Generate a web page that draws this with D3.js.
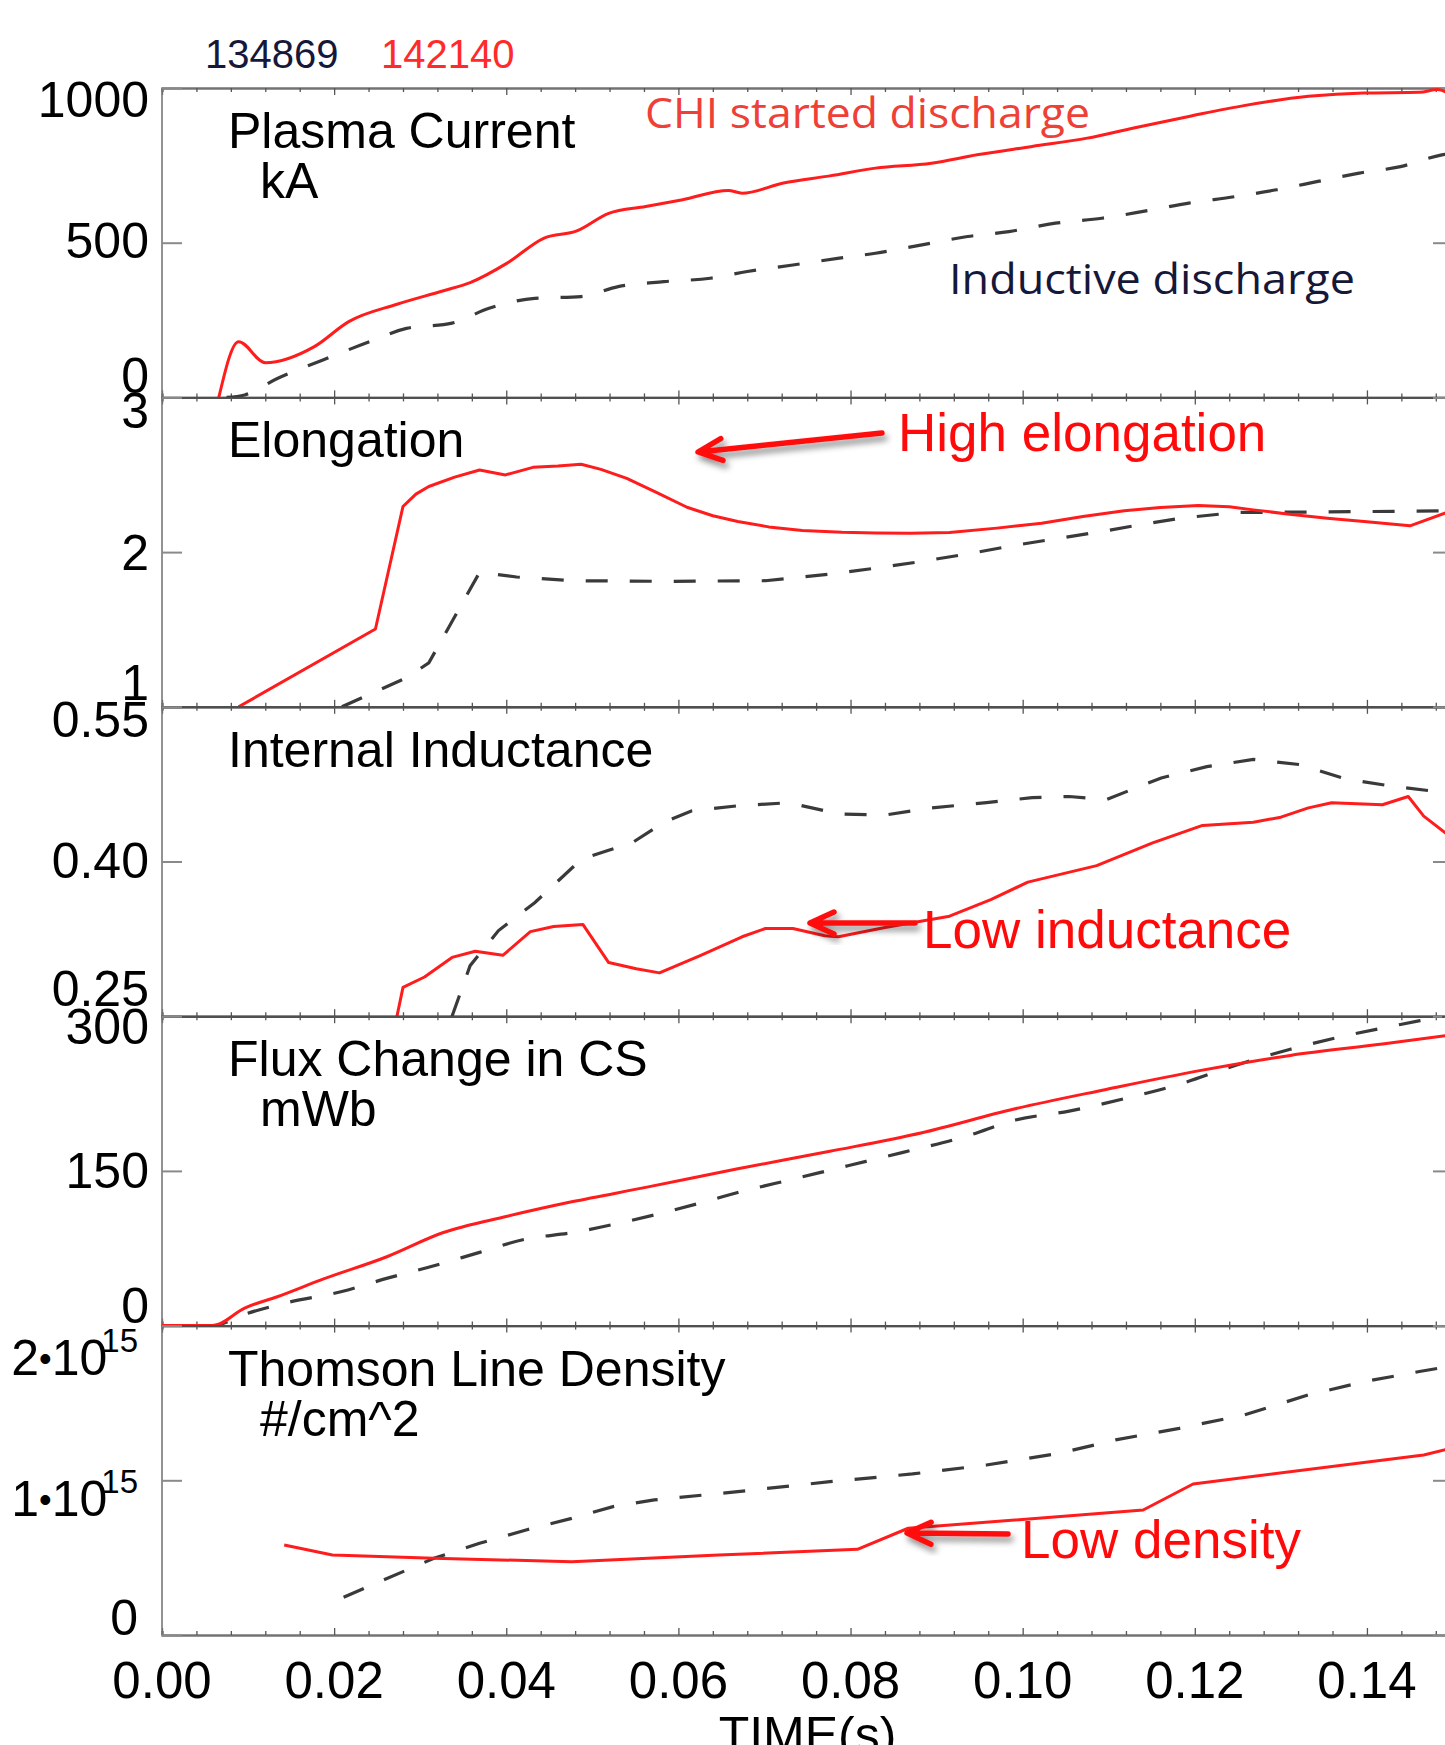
<!DOCTYPE html>
<html><head><meta charset="utf-8">
<script src="https://cdn.jsdelivr.net/npm/d3@7"></script>
<style>body{margin:0;background:#fff}svg{display:block}</style>
</head><body><svg id="c" width="1445" height="1745"></svg>
<script>
// ---------------- DATA ----------------
const shotInductive = "134869";
const shotCHI = "142140";
const xTickValues = [0, 0.02, 0.04, 0.06, 0.08, 0.10, 0.12, 0.14];
const xTickLabels = ["0.00", "0.02", "0.04", "0.06", "0.08", "0.10", "0.12", "0.14"];
const xAxisTitle = "TIME(s)";

const panelTitles = [["Plasma Current", "kA"], ["Elongation"], ["Internal Inductance"], ["Flux Change in CS", "mWb"], ["Thomson Line Density", "#/cm^2"]];
const panelDomains = [[0, 1000], [1, 3], [0.25, 0.55], [0, 300], [0, 2e15]];
const yTickValues = [[0, 500, 1000], [1, 2, 3], [0.25, 0.40, 0.55], [0, 150, 300], [0, 1e15, 2e15]];
const yTickLabels = [["0", "500", "1000"], ["1", "2", "3"], ["0.25", "0.40", "0.55"], ["0", "150", "300"], ["0", "1", "2"]];
const yTickSup = [["", "", ""], ["", "", ""], ["", "", ""], ["", "", ""], ["", "15", "15"]];

// Plasma current (kA)
const ipTimeCHI = [0.0066, 0.0089, 0.0120, 0.0177, 0.0217, 0.0273, 0.0326, 0.0358, 0.0401, 0.0444, 0.0482, 0.0519, 0.0562, 0.0605, 0.0658, 0.0674, 0.0722, 0.0776, 0.0829, 0.0894, 0.0947, 0.1011, 0.1075, 0.1129, 0.1193, 0.1257, 0.1332, 0.1396, 0.1461, 0.1482, 0.1500];
const ipCHI = [0, 180, 112, 164, 245, 301, 344, 371, 434, 515, 538, 595, 617, 639, 669, 660, 693, 716, 741, 757, 784, 811, 838, 871, 908, 943, 973, 984, 986, 995, 975];
const ipTimeInd = [0.0075, 0.0096, 0.0134, 0.0187, 0.0241, 0.0284, 0.0337, 0.0380, 0.0433, 0.0487, 0.0530, 0.0583, 0.0637, 0.0680, 0.0733, 0.0787, 0.0829, 0.0883, 0.0936, 0.0984, 0.1038, 0.1092, 0.1140, 0.1193, 0.1247, 0.1295, 0.1343, 0.1391, 0.1439, 0.1487, 0.1500];
const ipInd = [0, 8, 61, 121, 180, 223, 240, 288, 320, 326, 358, 374, 385, 407, 428, 450, 466, 493, 520, 536, 563, 579, 601, 628, 649, 671, 698, 725, 746, 784, 790];

// Elongation
const kTimeCHI = [0.0089, 0.0248, 0.0280, 0.0295, 0.0310, 0.0340, 0.0369, 0.0399, 0.0431, 0.0460, 0.0487, 0.0510, 0.0540, 0.0575, 0.0610, 0.0640, 0.0669, 0.0705, 0.0744, 0.0790, 0.0829, 0.0870, 0.0915, 0.0970, 0.1022, 0.1070, 0.1118, 0.1160, 0.1204, 0.1240, 0.1268, 0.1310, 0.1354, 0.1400, 0.1450, 0.1500];
const kCHI = [1.0, 1.503, 2.295, 2.375, 2.424, 2.485, 2.531, 2.499, 2.548, 2.556, 2.568, 2.535, 2.477, 2.385, 2.290, 2.235, 2.198, 2.163, 2.140, 2.128, 2.123, 2.122, 2.127, 2.155, 2.187, 2.230, 2.267, 2.288, 2.301, 2.293, 2.273, 2.245, 2.219, 2.196, 2.170, 2.27];
const kTimeInd = [0.0209, 0.0284, 0.0310, 0.0369, 0.0412, 0.0476, 0.0583, 0.0701, 0.0776, 0.0830, 0.0883, 0.0940, 0.0990, 0.1045, 0.1097, 0.1140, 0.1183, 0.1247, 0.1311, 0.1500];
const kInd = [1.0, 1.187, 1.284, 1.869, 1.839, 1.815, 1.811, 1.815, 1.858, 1.897, 1.940, 1.992, 2.043, 2.092, 2.138, 2.180, 2.219, 2.256, 2.258, 2.267];

// Internal inductance
const liTimeCHI = [0.0273, 0.0280, 0.0305, 0.0337, 0.0364, 0.0396, 0.0428, 0.0455, 0.0489, 0.0519, 0.0551, 0.0578, 0.0626, 0.0674, 0.0701, 0.0733, 0.0770, 0.0786, 0.0840, 0.0915, 0.0963, 0.1006, 0.1086, 0.1151, 0.1209, 0.1268, 0.1300, 0.1332, 0.1359, 0.1418, 0.1448, 0.1466, 0.1500];
const liCHI = [0.250, 0.278, 0.288, 0.307, 0.313, 0.309, 0.332, 0.337, 0.339, 0.302, 0.296, 0.292, 0.309, 0.327, 0.335, 0.335, 0.328, 0.327, 0.336, 0.347, 0.363, 0.380, 0.396, 0.418, 0.435, 0.438, 0.443, 0.452, 0.457, 0.455, 0.463, 0.444, 0.422];
const liTimeInd = [0.0337, 0.0358, 0.0391, 0.0433, 0.0487, 0.0519, 0.0546, 0.0583, 0.0615, 0.0669, 0.0728, 0.0755, 0.0787, 0.0840, 0.0894, 0.0958, 0.1011, 0.1054, 0.1097, 0.1161, 0.1214, 0.1268, 0.1322, 0.1375, 0.1429, 0.1500];
const liInd = [0.250, 0.299, 0.333, 0.360, 0.402, 0.411, 0.418, 0.438, 0.449, 0.454, 0.457, 0.452, 0.446, 0.445, 0.452, 0.457, 0.462, 0.463, 0.460, 0.481, 0.492, 0.499, 0.494, 0.480, 0.473, 0.466];

// Flux change in CS (mWb)
const fluxTimeCHI = [0, 0.0059, 0.0096, 0.0134, 0.0187, 0.0262, 0.0326, 0.0401, 0.0476, 0.0562, 0.0669, 0.0776, 0.0883, 0.0990, 0.1097, 0.1204, 0.1311, 0.1418, 0.1500];
const fluxCHI = [0, 0, 17, 28, 45, 67, 90, 106, 120, 134, 152, 169, 187, 210, 229, 247, 262, 273, 282];
const fluxTimeInd = [0, 0.0059, 0.0096, 0.0144, 0.0209, 0.0262, 0.0316, 0.0369, 0.0423, 0.0476, 0.0540, 0.0626, 0.0669, 0.0733, 0.0797, 0.0861, 0.0936, 0.0990, 0.1054, 0.1118, 0.1182, 0.1246, 0.1311, 0.1375, 0.1439, 0.1482, 0.1500];
const fluxInd = [0, 0, 11, 22, 33, 46, 58, 71, 84, 90, 101, 119, 129, 142, 155, 168, 184, 199, 208, 220, 234, 252, 268, 281, 292, 299, 302];

// Thomson line density (#/cm^2)
const neTimeCHI = [0.0142, 0.0198, 0.0316, 0.0476, 0.0647, 0.0808, 0.0867, 0.1140, 0.1198, 0.1466, 0.1500];
const neCHI = [0.582e15, 0.517e15, 0.496e15, 0.474e15, 0.517e15, 0.554e15, 0.690e15, 0.808e15, 0.976e15, 1.164e15, 1.21e15];
const neTimeInd = [0.0211, 0.0316, 0.0369, 0.0423, 0.0476, 0.0524, 0.0572, 0.0669, 0.0776, 0.0872, 0.0958, 0.1043, 0.1108, 0.1182, 0.1257, 0.1332, 0.1397, 0.1461, 0.1500];
const neInd = [0.244e15, 0.496e15, 0.593e15, 0.679e15, 0.754e15, 0.830e15, 0.873e15, 0.927e15, 0.991e15, 1.041e15, 1.099e15, 1.175e15, 1.261e15, 1.336e15, 1.422e15, 1.552e15, 1.638e15, 1.703e15, 1.74e15];

const seriesCHI = [[ipTimeCHI, ipCHI], [kTimeCHI, kCHI], [liTimeCHI, liCHI], [fluxTimeCHI, fluxCHI], [neTimeCHI, neCHI]];
const seriesInd = [[ipTimeInd, ipInd], [kTimeInd, kInd], [liTimeInd, liInd], [fluxTimeInd, fluxInd], [neTimeInd, neInd]];

// ---------------- LAYOUT ----------------
const left = 162, rightX = 1453;
const top0 = 88, panelH = 309.4, nP = 5;
const RED = "#ff1c1c", DARK = "#3a3a3a", NAVY = "#16183a";
const FONT = "'Liberation Sans', Arial, Helvetica, sans-serif";
const HFONT = "'Open Sans', 'Noto Sans', sans-serif";
const curveKinds = [d3.curveMonotoneX, d3.curveLinear, d3.curveLinear, d3.curveMonotoneX, d3.curveLinear];
const lblOff = [[-4, 15, 29], [-7, 18, 31], [-10, 16, 30], [-3, 17, 28], [0, 36, 49]];

const svg = d3.select("#c");
const defs = svg.append("defs");
const f = defs.append("filter").attr("id", "shadow").attr("x", "-20%").attr("y", "-50%").attr("width", "140%").attr("height", "200%");
f.append("feDropShadow").attr("dx", 3).attr("dy", 5).attr("stdDeviation", 3).attr("flood-color", "#000").attr("flood-opacity", 0.45);

const x = d3.scaleLinear().domain([0, 0.15]).range([left, rightX]);

for (let p = 0; p < nP; p++) {
  const pt = top0 + p * panelH, pb = pt + panelH;
  const y = d3.scaleLinear().domain(panelDomains[p]).range([pb, pt]);
  const g = svg.append("g");
  defs.append("clipPath").attr("id", "clip" + p).append("rect")
    .attr("x", left).attr("y", pt).attr("width", rightX - left).attr("height", panelH);

  // x axes (top & bottom) with inward ticks
  const minorVals = d3.range(0, 0.1501, 0.004);
  const axB = d3.axisTop(x).tickValues(minorVals).tickSizeOuter(0).tickSize(4).tickFormat("");
  const gb = g.append("g").attr("transform", `translate(0,${pb})`).call(axB);
  const axT = d3.axisBottom(x).tickValues(minorVals).tickSizeOuter(0).tickSize(4).tickFormat("");
  const gt = g.append("g").attr("transform", `translate(0,${pt})`).call(axT);
  [gb, gt].forEach(a => {
    a.select(".domain").attr("stroke", "#444").attr("stroke-width", 2.4).attr("stroke-opacity", 0.75);
    a.selectAll(".tick line").attr("stroke", "#555").attr("stroke-width", 1.3)
      .attr("y2", function(d){ const maj = Math.abs(d / 0.02 - Math.round(d / 0.02)) < 1e-6; const s = d3.select(this).attr("y2") < 0 ? -1 : 1; return s * (maj ? 7 : 4); });
  });
  // left axis line
  g.append("line").attr("x1", left).attr("x2", left).attr("y1", pt).attr("y2", pb)
    .attr("stroke", "#777").attr("stroke-width", 1.6);
  // y ticks (left and right)
  const yl = d3.axisRight(y).tickValues(yTickValues[p]).tickSize(20).tickFormat("");
  const gyl = g.append("g").attr("transform", `translate(${left},0)`).call(yl);
  gyl.select(".domain").remove();
  gyl.selectAll(".tick line").attr("stroke", "#8a8a8a").attr("stroke-width", 2);
  const yr = d3.axisLeft(y).tickValues(yTickValues[p]).tickSize(20).tickFormat("");
  const gyr = g.append("g").attr("transform", `translate(${rightX},0)`).call(yr);
  gyr.select(".domain").remove();
  gyr.selectAll(".tick line").attr("stroke", "#8a8a8a").attr("stroke-width", 2);

  // y tick labels
  yTickValues[p].forEach((v, i) => {
    const t = svg.append("text").attr("x", p === 4 ? 138 : 149).attr("y", y(v) + lblOff[p][i])
      .attr("text-anchor", "end").attr("font-family", FONT).attr("font-size", 50).attr("fill", "#000");
    if (yTickSup[p][i]) {
      t.append("tspan").text(yTickLabels[p][i]);
      t.append("tspan").attr("font-size", 36).attr("dy", -4).text("•");
      t.append("tspan").attr("dy", 4).text("10");
      t.append("tspan").attr("dy", -23).attr("dx", -6).attr("font-size", 33).text(yTickSup[p][i]);
    } else {
      t.text(yTickLabels[p][i]);
    }
  });

  // title
  panelTitles[p].forEach((s, i) => {
    svg.append("text").attr("x", i === 0 ? 228 : 260).attr("y", pt + 60 + i * 50)
      .attr("font-family", FONT).attr("font-size", 50).attr("fill", "#000").text(s);
  });

  // data
  const cg = svg.append("g").attr("clip-path", `url(#clip${p})`);
  const line = d3.line().x(d => x(d[0])).y(d => y(d[1])).curve(curveKinds[p]);
  const [ti, vi] = seriesInd[p];
  cg.append("path").datum(ti.map((t, i) => [t, vi[i]])).attr("d", line)
    .attr("fill", "none").attr("stroke", DARK).attr("stroke-width", 3.2).attr("stroke-dasharray", "22,22");
  const [tc, vc] = seriesCHI[p];
  cg.append("path").datum(tc.map((t, i) => [t, vc[i]])).attr("d", line)
    .attr("fill", "none").attr("stroke", RED).attr("stroke-width", 3).attr("stroke-linejoin", "round");
}

// x tick labels
xTickValues.forEach((v, i) => {
  svg.append("text").attr("x", x(v)).attr("y", 1698).attr("text-anchor", "middle")
    .attr("font-family", FONT).attr("font-size", 51).attr("fill", "#000").text(xTickLabels[i]);
});
svg.append("text").attr("x", (left + rightX) / 2).attr("y", 1752).attr("text-anchor", "middle")
  .attr("font-family", FONT).attr("font-size", 50).attr("fill", "#000").text(xAxisTitle);

// shot numbers
svg.append("text").attr("x", 205).attr("y", 68).attr("font-family", FONT).attr("font-size", 40).attr("fill", NAVY).text(shotInductive);
svg.append("text").attr("x", 381).attr("y", 68).attr("font-family", FONT).attr("font-size", 40).attr("fill", "#ff2a2a").text(shotCHI);

// discharge labels
svg.append("text").attr("x", 645).attr("y", 128).attr("font-family", HFONT).attr("font-size", 42)
  .attr("textLength", 445).attr("lengthAdjust", "spacingAndGlyphs").attr("fill", "#ee4036").text("CHI started discharge");
svg.append("text").attr("x", 949).attr("y", 294).attr("font-family", HFONT).attr("font-size", 42)
  .attr("textLength", 406).attr("lengthAdjust", "spacingAndGlyphs").attr("fill", NAVY).text("Inductive discharge");

// annotations with arrows
const ann = [
  {text: "High elongation", tx: 898, ty: 451, tail: [882, 433], tip: [698, 452]},
  {text: "Low inductance", tx: 923, ty: 948, tail: [915, 923], tip: [810, 923]},
  {text: "Low density", tx: 1021, ty: 1558, tail: [1008, 1534], tip: [907, 1533]}
];
ann.forEach(a => {
  const ag = svg.append("g").attr("filter", "url(#shadow)");
  const dx = a.tail[0] - a.tip[0], dy = a.tail[1] - a.tip[1];
  const L = Math.hypot(dx, dy), ux = dx / L, uy = dy / L;
  const hl = 24, hw = 11;
  const w1 = [a.tip[0] + ux * hl - uy * hw, a.tip[1] + uy * hl + ux * hw];
  const w2 = [a.tip[0] + ux * hl + uy * hw, a.tip[1] + uy * hl - ux * hw];
  ag.append("path").attr("d", `M${a.tail[0]},${a.tail[1]}L${a.tip[0] + ux * 3},${a.tip[1] + uy * 3}M${w1[0]},${w1[1]}L${a.tip[0]},${a.tip[1]}L${w2[0]},${w2[1]}`)
    .attr("fill", "none").attr("stroke", "#ff1010").attr("stroke-width", 5.5).attr("stroke-linecap", "round").attr("stroke-linejoin", "round");
  svg.append("text").attr("x", a.tx).attr("y", a.ty).attr("font-family", FONT).attr("font-size", 53)
    .attr("fill", "#ff0a0a").text(a.text);
});
</script></body></html>
